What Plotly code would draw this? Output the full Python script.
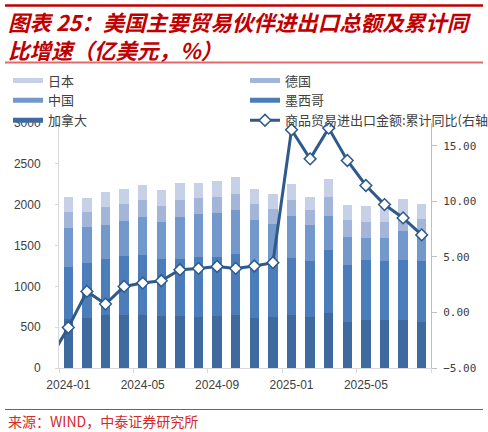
import plotly.graph_objects as go

# ---------------- data ----------------
months = ["2024-01", "2024-02", "2024-03", "2024-04", "2024-05", "2024-06", "2024-07",
          "2024-08", "2024-09", "2024-10", "2024-11", "2024-12", "2025-01", "2025-02",
          "2025-03", "2025-04", "2025-05", "2025-06", "2025-07", "2025-08"]
canada = [605, 613, 646, 646, 655, 635, 635, 623, 633, 646, 613, 625, 646, 625, 674, 564, 584, 584, 584, 564]
mexico = [633, 678, 686, 726, 734, 697, 705, 737, 727, 747, 657, 670, 706, 686, 776, 694, 735, 727, 735, 747]
china = [482, 437, 424, 429, 461, 457, 510, 523, 539, 547, 539, 474, 510, 437, 412, 347, 278, 286, 359, 327]
germany = [191, 183, 217, 204, 204, 196, 213, 204, 196, 188, 205, 184, 201, 184, 233, 204, 192, 192, 193, 192]
japan = [184, 172, 183, 192, 192, 200, 208, 184, 192, 212, 175, 175, 196, 163, 217, 193, 196, 204, 204, 184]

line_months = ["2023-12"] + months
yoy = [-4.2, -1.35, 1.90, 0.76, 2.35, 2.65, 2.86, 3.85, 3.97, 4.15, 3.97, 4.19, 4.49,
       16.46, 13.84, 16.61, 13.69, 11.44, 9.72, 8.52, 6.99]

tick_months = ["2024-01", "2024-05", "2024-09", "2025-01", "2025-05"]

# ---------------- layout helpers ----------------
W, H = 488, 432
PL, PW, PT, PH = 59, 372, 123, 245


def px(x):
    return (x - PL) / PW


def py(y):
    return (PT + PH - y) / PH


idx = {m: i for i, m in enumerate(months)}
idx["2023-12"] = -1
bar_x = [idx[m] for m in months]
line_x = [idx[m] for m in line_months]

c_ca = "#3f6a9f"
c_mx = "#4a7dba"
c_cn = "#7398cb"
c_de = "#a3b6d9"
c_jp = "#c6d1e7"
c_line = "#2e5a8c"

fig = go.Figure()

series = [("加拿大", canada, c_ca), ("墨西哥", mexico, c_mx), ("中国", china, c_cn),
          ("德国", germany, c_de), ("日本", japan, c_jp)]
for name, vals, col in series:
    fig.add_trace(go.Bar(x=bar_x, y=vals, name=name, marker=dict(color=col, line=dict(width=0)),
                         width=0.5, showlegend=False, hoverinfo="skip"))

fig.add_trace(go.Scatter(x=line_x, y=yoy, yaxis="y2", mode="lines+markers", showlegend=False,
                         line=dict(color=c_line, width=3),
                         marker=dict(symbol="diamond", size=9, color="white",
                                     line=dict(color=c_line, width=1.5)),
                         hoverinfo="skip"))

# legend proxies
legend_items = [("日本", c_jp, "legend", 1), ("中国", c_cn, "legend", 2), ("加拿大", c_ca, "legend", 3),
                ("德国", c_de, "legend2", 1), ("墨西哥", c_mx, "legend2", 2)]
for name, col, lg, rank in legend_items:
    fig.add_trace(go.Scatter(x=[None], y=[None], mode="lines", name=name,
                             line=dict(color=col, width=5), legend=lg, legendrank=rank))
fig.add_trace(go.Scatter(x=[None], y=[None], mode="lines+markers", name="商品贸易进出口金额:累计同比(右轴)",
                         line=dict(color=c_line, width=3),
                         marker=dict(symbol="diamond", size=9, color="white",
                                     line=dict(color=c_line, width=1.5)),
                         legend="legend2", legendrank=3))

axis_grey = "#d9d9d9"
tick_font = dict(family="Liberation Sans, Arial", size=12, color="#404040")

legend_font = dict(family="Noto Sans CJK SC", size=13, color="#404040")
fig.update_layout(
    width=W, height=H,
    margin=dict(l=PL, r=W - PL - PW, t=PT, b=H - PT - PH, autoexpand=False),
    paper_bgcolor="white", plot_bgcolor="white",
    barmode="stack", bargap=0.5,
    showlegend=True,
    legend=dict(x=px(8), y=py(65.5), xanchor="left", yanchor="top", orientation="v",
                traceorder="normal", font=legend_font, bgcolor="rgba(0,0,0,0)",
                tracegroupgap=0, itemclick=False),
    legend2=dict(x=px(245), y=py(65.5), xanchor="left", yanchor="top", orientation="v",
                 traceorder="normal", font=legend_font, bgcolor="rgba(0,0,0,0)",
                 tracegroupgap=0, itemclick=False),
    xaxis=dict(range=[-0.5, 19.5], tickvals=[idx[m] for m in tick_months], ticktext=tick_months,
               ticks="", showgrid=False, zeroline=False, showline=True, linecolor=axis_grey,
               linewidth=1, tickfont=tick_font, ticklabelstandoff=6,
               minor=dict(tick0=-0.5, dtick=4, ticks="outside", ticklen=4, tickcolor=axis_grey,
                          showgrid=False)),
    yaxis=dict(range=[0, 3000], dtick=500, tickformat="d", showgrid=False, zeroline=False,
               showline=True, linecolor=axis_grey, linewidth=1, ticks="outside", ticklen=3,
               tickcolor=axis_grey, tickfont=tick_font, ticklabelstandoff=12),
    yaxis2=dict(range=[-5, 17.07], tickvals=[-5, 0, 5, 10, 15], tickformat=".2f", overlaying="y",
                side="right", showgrid=False, zeroline=False, showline=True, linecolor="#bfbfbf",
                linewidth=1, ticks="outside", ticklen=5, tickcolor="#bfbfbf",
                tickfont=dict(family="DejaVu Sans Mono", size=11, color="#404040"),
                ticklabelstandoff=4),
)

title_font = dict(family="Noto Sans CJK SC", size=21.5, color="#c00000", weight="bold", style="italic")
fig.add_annotation(text="图表 25：美国主要贸易伙伴进出口总额及累计同<br>比增速（亿美元，%）",
                   x=px(6), y=py(36), xref="paper", yref="paper", xanchor="left", yanchor="middle",
                   align="left", showarrow=False, font=title_font)
fig.add_annotation(text="来源：WIND，中泰证券研究所", x=px(6), y=py(420.5), xref="paper", yref="paper",
                   xanchor="left", yanchor="middle", showarrow=False,
                   font=dict(family="Noto Sans CJK SC", size=14, color="#d42a2a"))

fig.add_shape(type="line", xref="paper", yref="paper", x0=px(5), x1=px(483), y0=py(5.5), y1=py(5.5),
              line=dict(color="#c00000", width=2.5))
fig.add_shape(type="line", xref="paper", yref="paper", x0=px(5), x1=px(483), y0=py(62.5), y1=py(62.5),
              line=dict(color="#e06a6a", width=2))
fig.add_shape(type="line", xref="paper", yref="paper", x0=px(5), x1=px(483), y0=py(409.5), y1=py(409.5),
              line=dict(color="#e03030", width=1.2))

fig.write_html("out.html")
